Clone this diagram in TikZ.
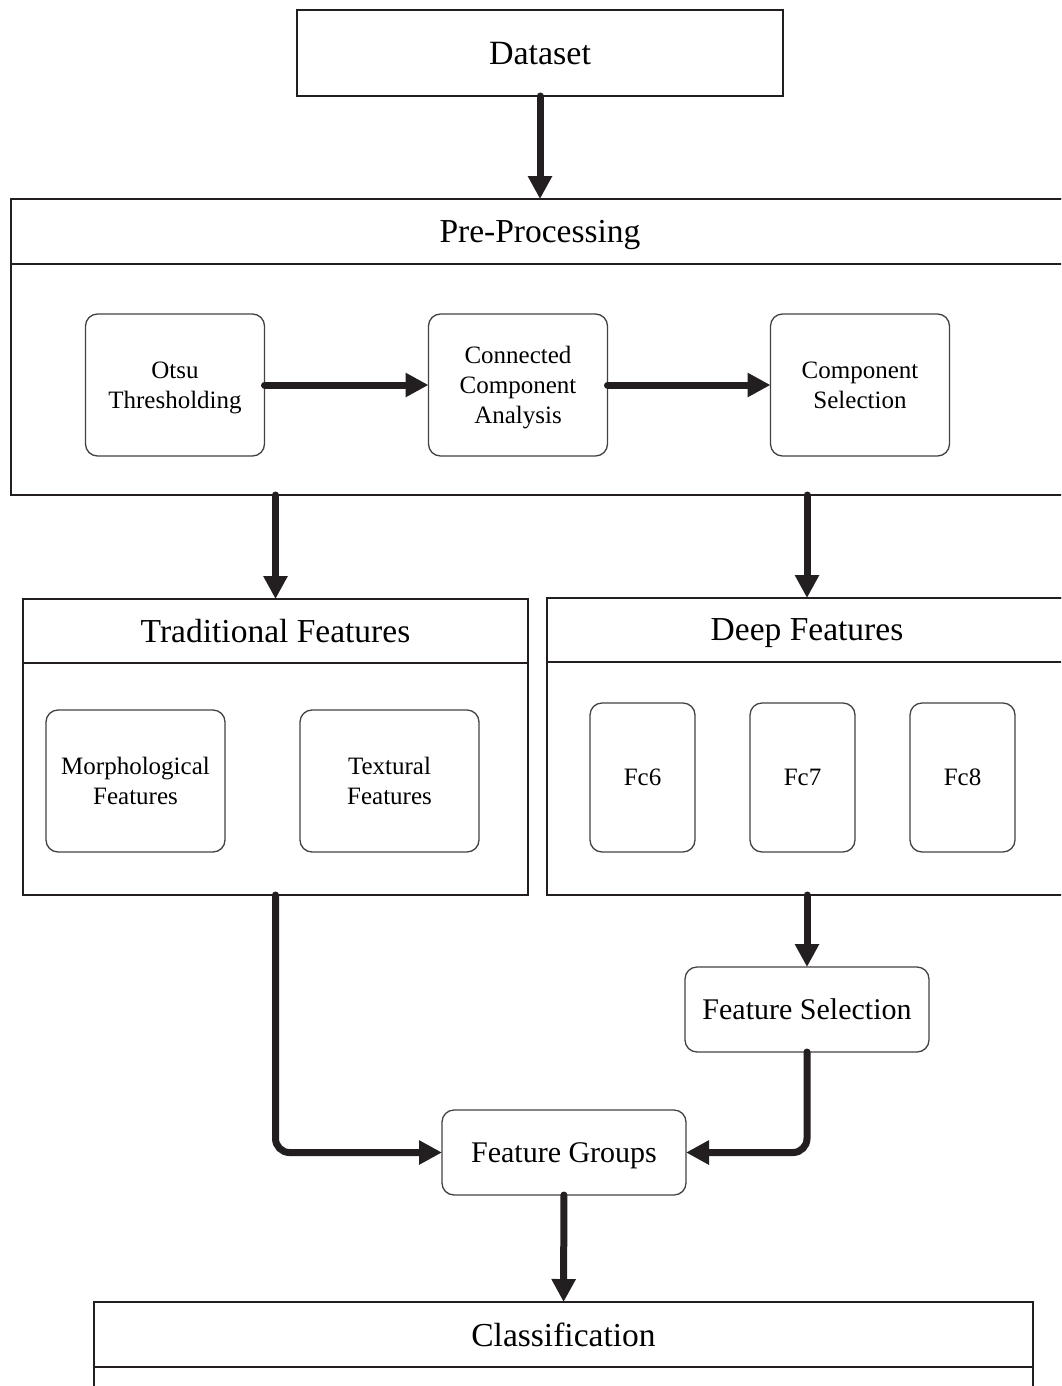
\documentclass[tikz,border=0pt]{standalone}
\usepackage{fontspec}
\setmainfont{Liberation Serif}
\usepackage{tikz}
\usetikzlibrary{arrows.meta, positioning}
\definecolor{ink}{HTML}{231F20}

\begin{document}
\begin{tikzpicture}[x=1pt, y=-1pt,
	panel/.style={draw=ink, line width=2pt, inner sep=0pt, outer sep=0pt, text depth=0pt},
	panelhead/.style={panel, font=\fontsize{33.5}{40}\selectfont},
	subbox/.style={draw=ink!85, line width=1.3pt, rounded corners=12pt, inner sep=0pt, outer sep=0pt, text depth=0pt,
		minimum width=179pt, minimum height=142pt, align=center, font=\fontsize{25}{30}\selectfont},
	stage/.style={draw=ink!85, line width=1.3pt, rounded corners=12pt, inner sep=0pt, outer sep=0pt, text depth=0pt,
		minimum width=244pt, minimum height=85pt, font=\fontsize{30}{36}\selectfont},
	link/.style={draw=ink, line width=7pt, line cap=round, -{Triangle[length=23pt, width=23pt]}}]
			\useasboundingbox (0,0) rectangle (1061,1386);
			\clip (0,0) rectangle (1061,1386);
			
			\node[panel, minimum width=486pt, minimum height=86pt, font=\fontsize{34}{40}\selectfont] (dataset) at (540,53) {Dataset};
			
			% pre-processing
			\node[panel, minimum width=1058pt, minimum height=296pt] (pre) at (540,347) {};
			\node[panelhead, minimum width=1058pt, minimum height=65pt, anchor=north] (preHead) at (pre.north) {Pre-Processing};
			\node[subbox] (otsu) at (175,385) {Otsu\\Thresholding};
			\node[subbox, right=164pt of otsu] (cca) {Connected\\Component\\Analysis};
			\node[subbox, right=163pt of cca] (csel) {Component\\Selection};
			
			% traditional features
			\node[panel, minimum width=505pt, minimum height=296pt] (trad) at (275.5,747) {};
			\node[panelhead, minimum width=505pt, minimum height=64pt, anchor=north] (tradHead) at (trad.north) {Traditional Features};
			\node[subbox] (morph) at (135.5,781) {Morphological\\Features};
			\node[subbox, right=75pt of morph] (textural) {Textural\\Features};
			
			% deep features
			\node[panel, minimum width=520pt, minimum height=297pt] (deep) at (807,746.5) {};
			\node[panelhead, minimum width=520pt, minimum height=64pt, anchor=north] (deepHead) at (deep.north) {Deep Features};
			\node[subbox, minimum width=105pt, minimum height=149pt] (fc6) at (642.5,777.5) {Fc6};
			\node[subbox, minimum width=105pt, minimum height=149pt, right=55pt of fc6] (fc7) {Fc7};
			\node[subbox, minimum width=105pt, minimum height=149pt, right=55pt of fc7] (fc8) {Fc8};
			
			\node[stage] (fsel) at (807,1009.5) {Feature Selection};
			\node[stage] (fgroups) at (564,1152.5) {Feature Groups};
			
			% classification
			\node[panel, minimum width=939pt, minimum height=296pt, anchor=north] (cls) at (563.5,1302) {};
			\node[panelhead, minimum width=939pt, minimum height=65pt, anchor=north] (clsHead) at (cls.north) {Classification};
			
			\draw[link] (dataset) -- (preHead);
			\draw[link] (otsu) -- (cca);
			\draw[link] (cca) -- (csel);
			\draw[link] (pre.south -| tradHead.north) -- (tradHead);
			\draw[link] (pre.south -| deepHead.north) -- (deepHead);
			\draw[link] (deep) -- (fsel);
			\draw[link, rounded corners=14pt] (trad.south) |- (fgroups.west);
			\draw[link, rounded corners=14pt] (fsel.south) |- (fgroups.east);
			\draw[link] (fgroups) -- (clsHead);
		\end{tikzpicture}
\end{document}
